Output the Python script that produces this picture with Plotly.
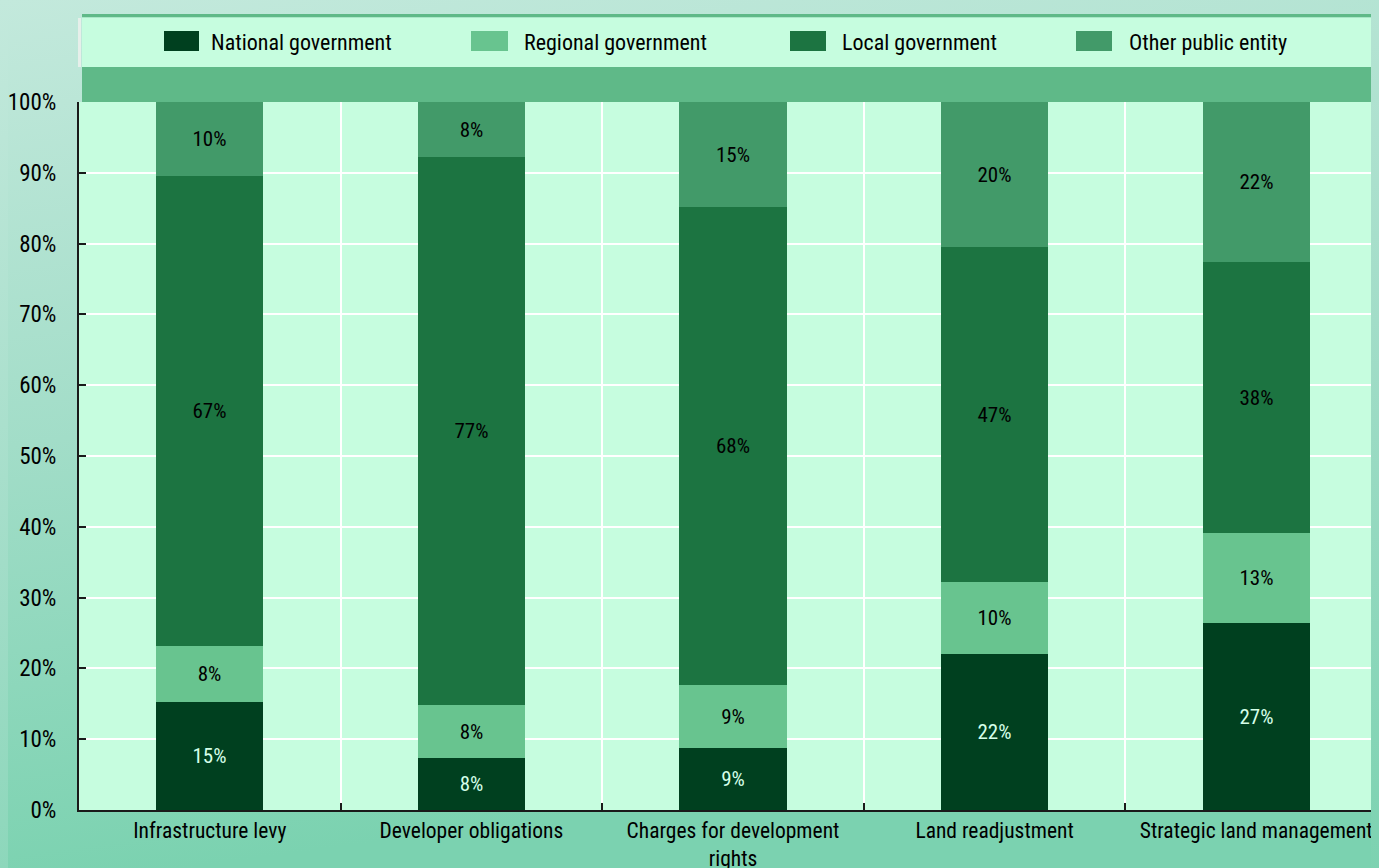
import base64
import plotly.graph_objects as go

categories = ["Infrastructure levy", "Developer obligations", "Charges for development<br>rights",
              "Land readjustment", "Strategic land management"]
series_names = ["National government", "Regional government", "Local government", "Other public entity"]
national = [15.3, 7.3, 8.8, 22.0, 26.4]
regional = [7.9, 7.6, 8.9, 10.2, 12.7]
local = [66.4, 77.3, 67.5, 47.3, 38.3]
other = [10.4, 7.8, 14.8, 20.5, 22.6]
national_lbl = ["15%", "8%", "9%", "22%", "27%"]
regional_lbl = ["8%", "8%", "9%", "10%", "13%"]
local_lbl = ["67%", "77%", "68%", "47%", "38%"]
other_lbl = ["10%", "8%", "15%", "20%", "22%"]
y_ticks = list(range(0, 101, 10))
y_tick_text = [f"{v}%" for v in y_ticks]

colors = ["#00401f", "#68c48f", "#1c7441", "#429a69"]
text_colors = ["#d6ffe9", "#000000", "#000000", "#000000"]

# figure coordinates (page is offset 8px by the body margin)
W, H = 1379, 868
ML, MR, MT, MB = 71, 0, 94, 66
PW, PH = W - ML - MR, H - MT - MB
FONT = "Liberation Sans Narrow, Arial Narrow, Roboto Condensed, sans-serif"
PLOT_BG = "#c6fddf"

def px_x(x):
    return (x - ML) / PW

def px_y(y):
    return 1 + (MT - y) / PH

x_idx = list(range(len(categories)))
fig = go.Figure()
for name, vals, lbls, col, tcol in zip(series_names, [national, regional, local, other],
                                       [national_lbl, regional_lbl, local_lbl, other_lbl],
                                       colors, text_colors):
    fig.add_trace(go.Bar(
        x=x_idx, y=vals, name=name, text=lbls, width=0.41,
        marker=dict(color=col, line=dict(width=0)),
        textposition="inside", insidetextanchor="middle", textangle=0,
        textfont=dict(family=FONT, size=21, color=tcol),
        hoverinfo="skip", showlegend=False,
    ))

svg = f'''<svg xmlns="http://www.w3.org/2000/svg" width="{W}" height="{H}">
<defs><linearGradient id="g" gradientUnits="userSpaceOnUse" x1="0" y1="-8" x2="120" y2="{H}">
<stop offset="0" stop-color="#c3e9dc"/><stop offset="0.5" stop-color="#a2ddc8"/>
<stop offset="1" stop-color="#7bd2b0"/></linearGradient></defs>
<rect width="{W}" height="{H}" fill="url(#g)"/>
<rect x="{ML}" y="{MT}" width="{PW}" height="{PH}" fill="{PLOT_BG}"/></svg>'''
src = "data:image/svg+xml;base64," + base64.b64encode(svg.encode()).decode()

shapes = [
    dict(type="rect", xref="paper", yref="paper", x0=px_x(74), x1=1, y0=px_y(9.5), y1=px_y(6),
         fillcolor="#5fb988", line=dict(width=0), layer="above"),
    dict(type="rect", xref="paper", yref="paper", x0=px_x(74), x1=1, y0=px_y(59), y1=px_y(9.5),
         fillcolor=PLOT_BG, line=dict(width=0), layer="above"),
    dict(type="rect", xref="paper", yref="paper", x0=px_x(74), x1=1, y0=1, y1=px_y(59),
         fillcolor="#5fb988", line=dict(width=0), layer="above"),
    dict(type="rect", xref="paper", yref="paper", x0=px_x(70), x1=px_x(73), y0=px_y(59), y1=px_y(10),
         fillcolor="#e6efea", line=dict(width=0), layer="above"),
]
annotations = []
legend_pos = [(156, 191, 201), (463, 500, 514), (782, 818, 832), (1068, 1104, 1119)]
for (s0, s1, tx), name, col in zip(legend_pos, series_names, colors):
    shapes.append(dict(type="rect", xref="paper", yref="paper", x0=px_x(s0), x1=px_x(s1),
                       y0=px_y(43), y1=px_y(23), fillcolor=col, line=dict(width=0), layer="above"))
    annotations.append(dict(xref="paper", yref="paper", x=px_x(tx), y=px_y(34), text=name,
                            showarrow=False, xanchor="left", yanchor="middle",
                            font=dict(family=FONT, size=22, color="#000000")))

fig.update_layout(
    width=W, height=H, barmode="stack", bargap=0,
    margin=dict(l=ML, r=MR, t=MT, b=MB, pad=0, autoexpand=False),
    paper_bgcolor="#a6dfca", plot_bgcolor=PLOT_BG,
    font=dict(family=FONT, size=23, color="#000000"),
    images=[dict(source=src, xref="paper", yref="paper", x=-ML / PW, y=1 + MT / PH,
                 sizex=W / PW, sizey=H / PH, sizing="stretch", xanchor="left", yanchor="top",
                 layer="below")],
    shapes=shapes, annotations=annotations,
    xaxis=dict(range=[-0.5, 4.5], tickmode="array", tickvals=x_idx, ticktext=categories,
               automargin=False, showgrid=False, ticks="", showline=True, linecolor="#1a1a1a",
               linewidth=2, zeroline=False, tickfont=dict(family=FONT, size=21.5, color="#000000"),
               minor=dict(tickmode="array", tickvals=[0.5, 1.5, 2.5, 3.5], showgrid=True,
                          gridcolor="#ffffff", gridwidth=2, ticks="inside", ticklen=7,
                          tickcolor="#1a1a1a", tickwidth=1.5)),
    yaxis=dict(range=[0, 100], tickmode="array", tickvals=y_ticks, ticktext=y_tick_text,
               automargin=False, showgrid=True, gridcolor="#ffffff", gridwidth=2, ticks="inside",
               ticklen=7, tickcolor="#1a1a1a", tickwidth=1.5, showline=True, linecolor="#1a1a1a",
               linewidth=2, zeroline=False, ticklabelstandoff=16,
               tickfont=dict(family=FONT, size=23, color="#000000")),
)

post = ("document.documentElement.style.minHeight='100%';"
        "document.documentElement.style.background="
        "'linear-gradient(170deg, #c3e9dc 0%, #a2ddc8 50%, #7bd2b0 100%)';"
        "document.body.style.background='transparent';")
fig.write_html("out.html", post_script=post)
